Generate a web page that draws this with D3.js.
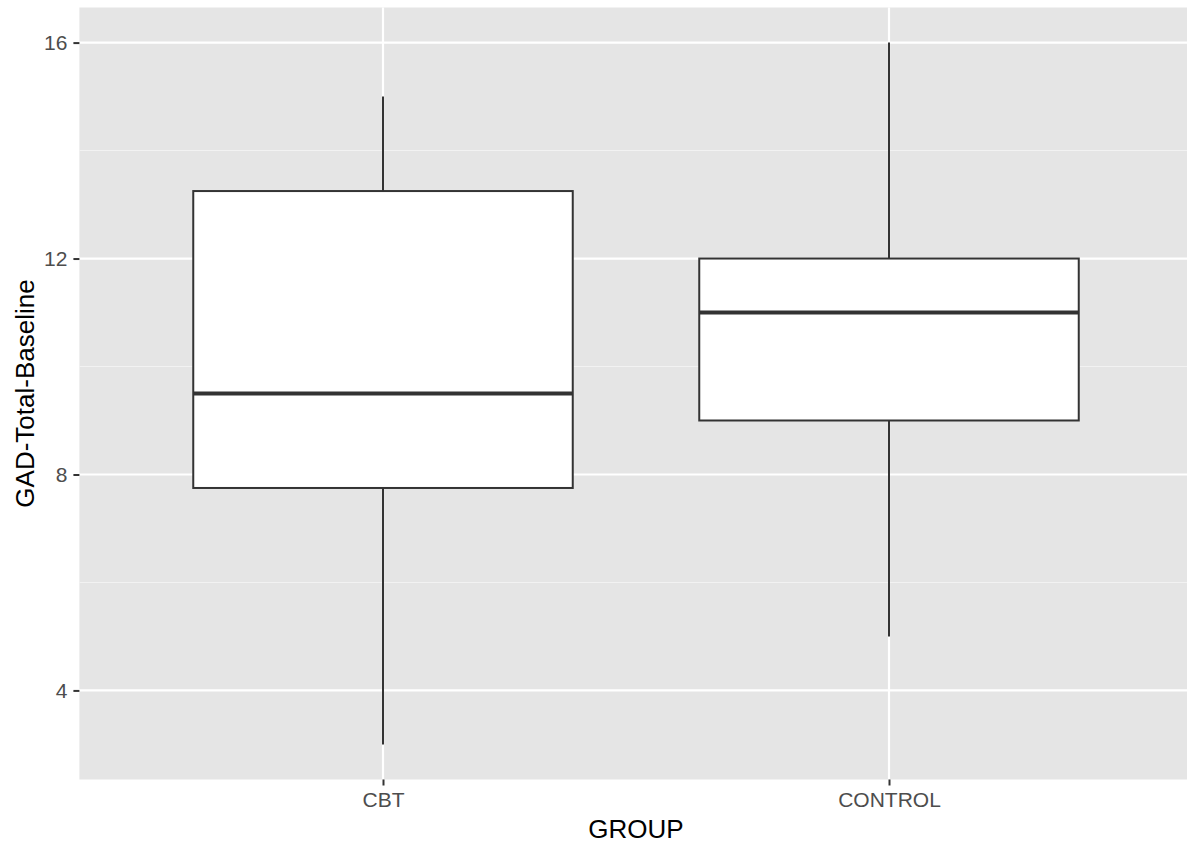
<!DOCTYPE html>
<html>
<head>
<meta charset="utf-8">
<script src="https://cdn.jsdelivr.net/npm/d3@7"></script>
<style>
  body { margin: 0; background: #fff; }
  text { font-family: "Liberation Sans", Arial, sans-serif; }
</style>
</head>
<body>
<svg id="chart" width="1187" height="843"></svg>
<script>
// boxplot summaries
const groups = ['CBT', 'CONTROL'];
const lowerWhisker = [3, 5];
const q1 = [7.75, 9];
const medians = [9.5, 11];
const q3 = [13.25, 12];
const upperWhisker = [15, 16];
const yTicks = [4, 8, 12, 16];
const yMinor = [6, 10, 14];

const svg = d3.select('#chart');

// panel geometry
const panel = { left: 79.4, right: 1192.6, top: 7.5, bottom: 779.5 };

// discrete x: positions 1..n with 0.6 expansion each side
const x = d3.scaleLinear()
    .domain([0.4, groups.length + 0.6])
    .range([panel.left, panel.right]);

const yLo = 3, yHi = 16, pad = (yHi - yLo) * 0.05;
const y = d3.scaleLinear()
    .domain([yLo - pad, yHi + pad])
    .range([panel.bottom, panel.top]);

// panel background
svg.append('rect')
    .attr('x', panel.left)
    .attr('y', panel.top)
    .attr('width', panel.right - panel.left)
    .attr('height', panel.bottom - panel.top)
    .attr('fill', '#e5e5e5');

// minor grid
svg.selectAll('.minor')
    .data(yMinor)
    .join('line')
    .attr('x1', panel.left).attr('x2', panel.right)
    .attr('y1', d => y(d)).attr('y2', d => y(d))
    .attr('stroke', '#f2f2f2')
    .attr('stroke-width', 1.1);

// major grid
svg.selectAll('.major-y')
    .data(yTicks)
    .join('line')
    .attr('x1', panel.left).attr('x2', panel.right)
    .attr('y1', d => y(d)).attr('y2', d => y(d))
    .attr('stroke', '#fff')
    .attr('stroke-width', 2.2);

svg.selectAll('.major-x')
    .data(groups)
    .join('line')
    .attr('x1', (d, i) => x(i + 1)).attr('x2', (d, i) => x(i + 1))
    .attr('y1', panel.top).attr('y2', panel.bottom)
    .attr('stroke', '#fff')
    .attr('stroke-width', 2.2);

// boxes
const boxW = 0.75;
const boxes = svg.selectAll('.box')
    .data(groups)
    .join('g')
    .attr('class', 'box');

boxes.append('line')
    .attr('x1', (d, i) => x(i + 1)).attr('x2', (d, i) => x(i + 1))
    .attr('y1', (d, i) => y(upperWhisker[i])).attr('y2', (d, i) => y(q3[i]))
    .attr('stroke', '#333').attr('stroke-width', 2);

boxes.append('line')
    .attr('x1', (d, i) => x(i + 1)).attr('x2', (d, i) => x(i + 1))
    .attr('y1', (d, i) => y(q1[i])).attr('y2', (d, i) => y(lowerWhisker[i]))
    .attr('stroke', '#333').attr('stroke-width', 2);

boxes.append('rect')
    .attr('x', (d, i) => x(i + 1 - boxW / 2))
    .attr('width', (d, i) => x(i + 1 + boxW / 2) - x(i + 1 - boxW / 2))
    .attr('y', (d, i) => y(q3[i]))
    .attr('height', (d, i) => y(q1[i]) - y(q3[i]))
    .attr('fill', '#fff')
    .attr('stroke', '#333')
    .attr('stroke-width', 2);

boxes.append('line')
    .attr('x1', (d, i) => x(i + 1 - boxW / 2)).attr('x2', (d, i) => x(i + 1 + boxW / 2))
    .attr('y1', (d, i) => y(medians[i])).attr('y2', (d, i) => y(medians[i]))
    .attr('stroke', '#333').attr('stroke-width', 4);

// y axis
const yAxis = svg.append('g')
    .attr('transform', `translate(${panel.left},0)`)
    .call(d3.axisLeft(y).tickValues(yTicks).tickSize(6).tickPadding(6));
yAxis.select('.domain').remove();
yAxis.selectAll('line').attr('stroke', '#333').attr('stroke-width', 2);
yAxis.selectAll('text').attr('fill', '#4d4d4d').attr('font-size', 21)
    .style('font-family', '"Liberation Sans", Arial, sans-serif');

// x axis
const xAxis = svg.append('g')
    .attr('transform', `translate(0,${panel.bottom})`)
    .call(d3.axisBottom(x).tickValues(groups.map((d, i) => i + 1))
        .tickFormat((d, i) => groups[i]).tickSize(6).tickPadding(7));
xAxis.select('.domain').remove();
xAxis.selectAll('line').attr('stroke', '#333').attr('stroke-width', 2);
xAxis.selectAll('text').attr('fill', '#4d4d4d').attr('font-size', 21)
    .style('font-family', '"Liberation Sans", Arial, sans-serif');

// axis titles
svg.append('text')
    .attr('x', (panel.left + panel.right) / 2)
    .attr('y', 838)
    .attr('text-anchor', 'middle')
    .attr('font-size', 26)
    .attr('fill', '#000')
    .text('GROUP');

svg.append('text')
    .attr('transform', `translate(34,${(panel.top + panel.bottom) / 2}) rotate(-90)`)
    .attr('text-anchor', 'middle')
    .attr('font-size', 26)
    .attr('fill', '#000')
    .text('GAD-Total-Baseline');
</script>
</body>
</html>
